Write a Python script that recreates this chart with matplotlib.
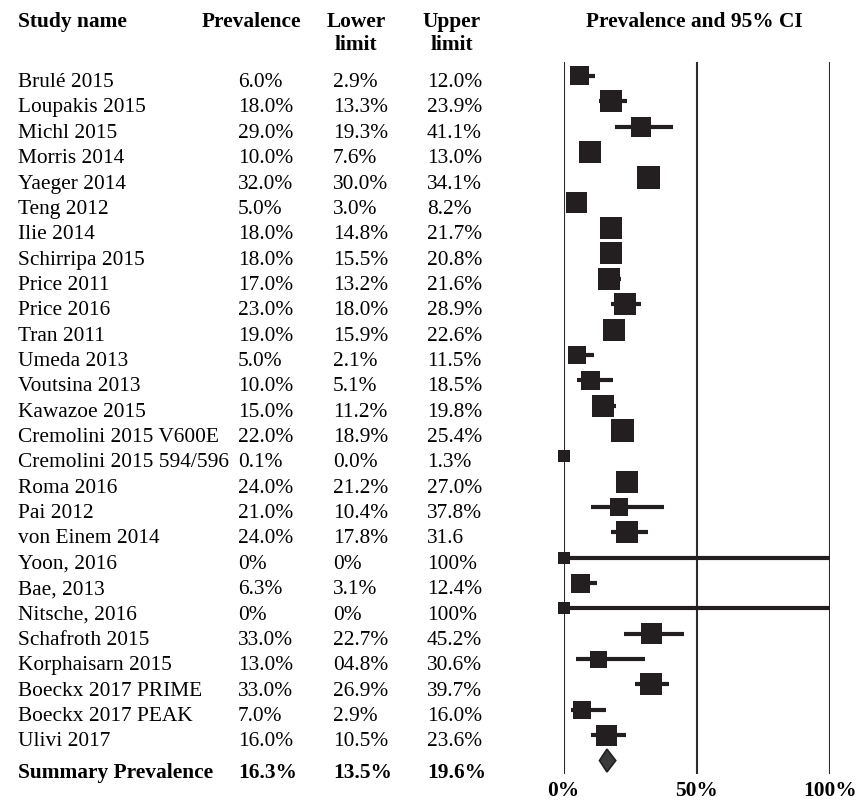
import matplotlib
matplotlib.use("Agg")
from matplotlib import pyplot as plt
from matplotlib.patches import Polygon
from matplotlib.transforms import blended_transform_factory

# study rows, as printed in the table
studies = ["Brulé 2015", "Loupakis 2015", "Michl 2015", "Morris 2014", "Yaeger 2014",
           "Teng 2012", "Ilie 2014", "Schirripa 2015", "Price 2011", "Price 2016",
           "Tran 2011", "Umeda 2013", "Voutsina 2013", "Kawazoe 2015",
           "Cremolini 2015 V600E", "Cremolini 2015 594/596", "Roma 2016", "Pai 2012",
           "von Einem 2014", "Yoon, 2016", "Bae, 2013", "Nitsche, 2016",
           "Schafroth 2015", "Korphaisarn 2015", "Boeckx 2017 PRIME",
           "Boeckx 2017 PEAK", "Ulivi 2017"]
prev_txt = ["6.0%", "18.0%", "29.0%", "10.0%", "32.0%", "5.0%", "18.0%", "18.0%",
            "17.0%", "23.0%", "19.0%", "5.0%", "10.0%", "15.0%", "22.0%", "0.1%",
            "24.0%", "21.0%", "24.0%", "0%", "6.3%", "0%", "33.0%", "13.0%",
            "33.0%", "7.0%", "16.0%"]
lower_txt = ["2.9%", "13.3%", "19.3%", "7.6%", "30.0%", "3.0%", "14.8%", "15.5%",
             "13.2%", "18.0%", "15.9%", "2.1%", "5.1%", "11.2%", "18.9%", "0.0%",
             "21.2%", "10.4%", "17.8%", "0%", "3.1%", "0%", "22.7%", "04.8%",
             "26.9%", "2.9%", "10.5%"]
upper_txt = ["12.0%", "23.9%", "41.1%", "13.0%", "34.1%", "8.2%", "21.7%", "20.8%",
             "21.6%", "28.9%", "22.6%", "11.5%", "18.5%", "19.8%", "25.4%", "1.3%",
             "27.0%", "37.8%", "31.6", "100%", "12.4%", "100%", "45.2%", "30.6%",
             "39.7%", "16.0%", "23.6%"]
# relative study weights (box size)
weight = [19, 22, 20, 22, 23, 21, 22, 22, 22, 22, 22, 18, 19, 22, 23, 12, 22, 18,
          22, 12, 19, 12, 21, 17, 22, 18, 21]
summary = ["16.3%", "13.5%", "19.6%"]
ticks = [0, 50, 100]


def pct(s):
    return float(s.rstrip("%"))


prev = [pct(s) for s in prev_txt]
lower = [pct(s) for s in lower_txt]
upper = [pct(s) for s in upper_txt]
s_prev, s_low, s_up = [pct(s) for s in summary]

W, H = 858, 803
plt.rcParams["font.family"] = ["Liberation Serif", "DejaVu Serif"]
fig = plt.figure(figsize=(W / 100, H / 100), dpi=100)
ax = fig.add_axes([563.5 / W, 1 - 775 / H, (830 - 563.5) / W, (775 - 63) / H])

ink = "#231f20"
rows = list(range(len(studies)))
n = len(studies)

for i in rows:
    ax.plot([lower[i], upper[i]], [i, i], color=ink, lw=3, solid_capstyle="butt",
            zorder=2, clip_on=False)
ax.scatter(prev, rows, marker="s", s=[(w * 0.72) ** 2 for w in weight],
           color=ink, linewidths=0, zorder=3, clip_on=False)

d = 0.45
ax.add_patch(Polygon([[s_low, n], [s_prev, n - d], [s_up, n], [s_prev, n + d]],
                     closed=True, facecolor="#3a3a3a", edgecolor=ink, lw=1.2,
                     zorder=3, clip_on=False))

for x in ticks:
    ax.axvline(x, color="#2b2b2b", lw=1.5, zorder=1)

ax.set_xlim(0, 100)
ax.set_ylim(27.53, -0.55)
ax.set_xticks([])
ax.set_yticks([])
for sp in ax.spines.values():
    sp.set_visible(False)

fs = 15.4
# tick labels under the plot
trx = blended_transform_factory(ax.transData, fig.transFigure)
for x in ticks:
    ax.text(x, 1 - 796 / H, f"{x}%", transform=trx, fontsize=fs, fontweight="bold",
            ha="center", va="baseline")

# table columns
tr = blended_transform_factory(fig.transFigure, ax.transData)
off = 0.4
for i in rows:
    y = i + off
    ax.text(18 / W, y, studies[i], transform=tr, fontsize=fs, va="baseline")
    ax.text(238 / W, y, prev_txt[i], transform=tr, fontsize=fs, va="baseline")
    ax.text(333 / W, y, lower_txt[i], transform=tr, fontsize=fs, va="baseline")
    ax.text(427 / W, y, upper_txt[i], transform=tr, fontsize=fs, va="baseline")

ys = n + 0.65
ax.text(18 / W, ys, "Summary Prevalence", transform=tr, fontsize=fs, va="baseline",
        fontweight="bold")
for x, s in zip((238, 333, 427), summary):
    ax.text(x / W, ys, s, transform=tr, fontsize=fs, va="baseline", fontweight="bold")

# header
hy1 = 1 - 27 / H
hy2 = 1 - 50 / H
hd = dict(fontsize=fs, fontweight="bold", va="baseline")
fig.text(18 / W, hy1, "Study name", **hd)
fig.text(202 / W, hy1, "Prevalence", **hd)
fig.text(356 / W, hy1, "Lower", ha="center", **hd)
fig.text(356 / W, hy2, "limit", ha="center", **hd)
fig.text(452 / W, hy1, "Upper", ha="center", **hd)
fig.text(452 / W, hy2, "limit", ha="center", **hd)
fig.text(694 / W, hy1, "Prevalence and 95% CI", ha="center", **hd)

fig.savefig("out.png", dpi=100)
